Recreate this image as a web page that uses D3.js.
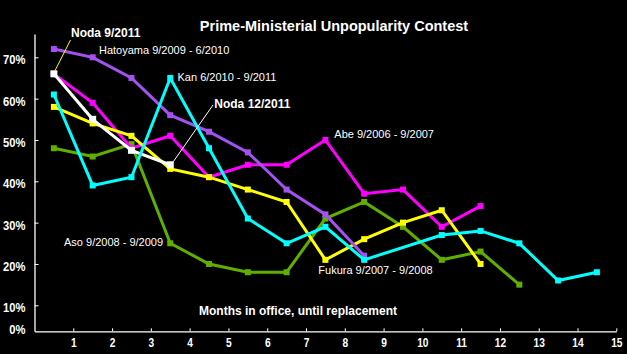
<!DOCTYPE html>
<html>
<head>
<meta charset="utf-8">
<script src="https://cdn.jsdelivr.net/npm/d3@7"></script>
<style>
  html, body { margin: 0; padding: 0; background: #000; }
  svg { display: block; }
  text { font-family: "Liberation Sans", Arial, sans-serif; fill: #fff; }
</style>
</head>
<body>
<svg id="chart" width="627" height="354"></svg>
<script>
// ---- Data ----
const xTicks = [1, 2, 3, 4, 5, 6, 7, 8, 9, 10, 11, 12, 13, 14, 15];
const yTicks = [10, 20, 30, 40, 50, 60, 70];
const yBottomLabel = "0%";

const hatoyama = [72, 70, 65, 56, 52, 47, 38, 32, 22];
const noda     = [66, 55, 47.5, 44];
const abe      = [66, 59, 48, 51, 41, 44, 44, 50, 37, 38, 29, 34];
const kan      = [61, 39, 41, 65, 48, 31, 25, 29, 21, null, 27, 28, 25, 16, 18];
const aso      = [48, 46, 49, 25, 20, 18, 18, 31, 35, 29, 21, 23, 15];
const fukuda   = [58, 54, 51, 43, 41, 38, 35, 21, 26, 30, 33, 20];

const seriesNames  = ["Aso", "Abe", "Fukuda", "Noda", "Hatoyama", "Kan"];
const seriesValues = [aso, abe, fukuda, noda, hatoyama, kan];
const seriesColors = ["#5fae00", "#ff00ff", "#ffff00", "#ffffff", "#a352f0", "#00ffff"];

const title = "Prime-Ministerial Unpopularity Contest";
const xTitle = "Months in office, until replacement";

// ---- Chart ----
const svg = d3.select("#chart");
svg.append("rect").attr("width", 627).attr("height", 354).attr("fill", "#000");

const x = d3.scaleLinear().domain([0, 15]).range([34.5, 616.3]);
const y = d3.scaleLinear().domain([3.71, 75.64]).range([331.3, 34]);

// axes
const xAxis = svg.append("g")
  .attr("transform", `translate(0,${y.range()[0]})`)
  .call(d3.axisBottom(x).tickValues(xTicks).tickSize(-3).tickSizeOuter(0).tickPadding(7).tickFormat(d3.format("d")));
xAxis.select(".domain").attr("stroke", "#fff").attr("stroke-width", 1.3);
xAxis.selectAll(".tick line").attr("stroke", "#fff");
xAxis.selectAll(".tick text")
  .attr("fill", "#fff").style("font-size", "12px").style("font-weight", "bold")
  .style("font-family", "'Liberation Sans', Arial, sans-serif")
  .each(function() {
    const t = d3.select(this);
    const w = this.getComputedTextLength();
    t.attr("textLength", w * 0.85).attr("lengthAdjust", "spacingAndGlyphs");
  });

const yAxis = svg.append("g")
  .attr("transform", `translate(${x.range()[0]},0)`)
  .call(d3.axisLeft(y).tickValues(yTicks).tickSize(-4).tickSizeOuter(0).tickPadding(9).tickFormat(d => d + "%"));
yAxis.select(".domain").attr("stroke", "#fff").attr("stroke-width", 1.3);
yAxis.selectAll(".tick line").attr("stroke", "#fff");
yAxis.selectAll(".tick text")
  .attr("fill", "#fff").attr("dy", "0.5em").style("font-size", "13px").style("font-weight", "bold")
  .style("font-family", "'Liberation Sans', Arial, sans-serif")
  .each(function() {
    const w = this.getComputedTextLength();
    d3.select(this).attr("textLength", w * 0.86).attr("lengthAdjust", "spacingAndGlyphs");
  });
// the "0%" label sits at the bottom of the axis
const zeroLbl = svg.append("text")
  .attr("x", x.range()[0] - 9).attr("y", y.range()[0] + 2.7)
  .attr("text-anchor", "end")
  .style("font-size", "13px").style("font-weight", "bold")
  .text(yBottomLabel);
zeroLbl.attr("textLength", zeroLbl.node().getComputedTextLength() * 0.86).attr("lengthAdjust", "spacingAndGlyphs");

// series
const line = d3.line()
  .defined(d => d.v !== null)
  .x(d => x(d.m)).y(d => y(d.v));

seriesValues.forEach((vals, i) => {
  const pts = vals.map((v, j) => ({ m: j + 0.5, v }));
  const valid = pts.filter(d => d.v !== null);
  const g = svg.append("g").attr("class", "series " + seriesNames[i]);
  g.append("path")
    .datum(valid)
    .attr("d", line)
    .attr("fill", "none")
    .attr("stroke", seriesColors[i])
    .attr("stroke-width", 3)
    .attr("stroke-linejoin", "miter");
  const s = seriesNames[i] === "Noda" ? 7 : 6;
  g.selectAll("rect").data(valid).join("rect")
    .attr("x", d => x(d.m) - s / 2)
    .attr("y", d => y(d.v) - s / 2)
    .attr("width", s).attr("height", s)
    .attr("fill", seriesColors[i]);
});

// title
svg.append("text").attr("x", 334).attr("y", 31).attr("text-anchor", "middle")
  .style("font-size", "14.5px").style("font-weight", "bold").text(title);

// axis title
svg.append("text").attr("x", 199).attr("y", 315)
  .style("font-size", "12px").style("font-weight", "bold").text(xTitle);

// series annotations
const annots = [
  { t: "Hatoyama 9/2009 - 6/2010", x: 99, y: 54.3 },
  { t: "Kan 6/2010 - 9/2011", x: 177.5, y: 80.7 },
  { t: "Abe 9/2006 - 9/2007", x: 334.3, y: 137.7 },
  { t: "Aso 9/2008 - 9/2009", x: 64, y: 246 },
  { t: "Fukura 9/2007 - 9/2008", x: 318.3, y: 274 }
];
annots.forEach(a => {
  svg.append("text").attr("x", a.x).attr("y", a.y)
    .style("font-size", "11px").text(a.t);
});

// Noda callouts
svg.append("line")
  .attr("x1", 70.5).attr("y1", 40)
  .attr("x2", x(0.5) + 1).attr("y2", y(noda[0]) - 3)
  .attr("stroke", "#ffff00").attr("stroke-width", 1);
svg.append("text").attr("x", 71).attr("y", 36.7)
  .style("font-size", "12px").style("font-weight", "bold").text("Noda 9/2011");

svg.append("line")
  .attr("x1", 213).attr("y1", 105)
  .attr("x2", x(3.5) + 3).attr("y2", y(noda[3]) - 3)
  .attr("stroke", "#ffffff").attr("stroke-width", 1);
svg.append("text").attr("x", 214.3).attr("y", 108.3)
  .style("font-size", "12px").style("font-weight", "bold").text("Noda 12/2011");
</script>
</body>
</html>
